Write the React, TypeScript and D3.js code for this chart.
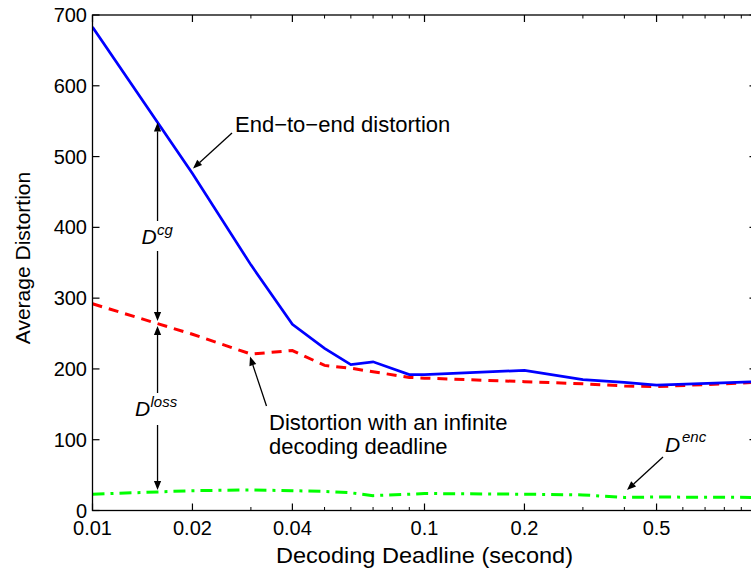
import React from "react";
import * as d3 from "d3";

// Decoding deadlines (seconds) shared by all series
const deadlines = [0.01, 0.02, 0.03, 0.04, 0.05, 0.06, 0.07, 0.09, 0.1, 0.2, 0.3, 0.4, 0.5, 1];
// End-to-end distortion
const endToEnd = [683, 476, 347, 263, 229, 206, 210, 192, 192, 198, 185, 181, 177, 182];
// Distortion with an infinite decoding deadline
const infiniteDeadline = [292, 249, 221, 226, 205, 201, 196, 188, 187, 182, 179, 176, 175, 181];
// Encoder distortion
const encoderDist = [23, 28, 29, 28, 27, 25, 21, 23, 24, 23, 22, 18.5, 19, 18.5];

const xMajorTicks = [0.01, 0.02, 0.04, 0.1, 0.2, 0.5, 1];
const xTickLabels = ["0.01", "0.02", "0.04", "0.1", "0.2", "0.5", ""];
const xMinorTicks = [0.03, 0.05, 0.06, 0.07, 0.08, 0.09, 0.3, 0.4, 0.6, 0.7, 0.8, 0.9];
const yTicks = [0, 100, 200, 300, 400, 500, 600, 700];

const W = 751;
const H = 572;
const FONT = "'Liberation Sans', Arial, Helvetica, sans-serif";

const left = 92.5;
const right = 756.5;
const top = 15;
const bottom = 510.5;

function Arrow({ x1, y1, x2, y2 }: { x1: number; y1: number; x2: number; y2: number }) {
  const len = 9;
  const half = 3.6;
  const dx = x2 - x1;
  const dy = y2 - y1;
  const d = Math.hypot(dx, dy);
  const ux = dx / d;
  const uy = dy / d;
  const bx = x2 - ux * len;
  const by = y2 - uy * len;
  const px = -uy * half;
  const py = ux * half;
  return (
    <g>
      <line x1={x1} y1={y1} x2={bx} y2={by} stroke="#000" strokeWidth={1.3} />
      <polygon points={`${x2},${y2} ${bx + px},${by + py} ${bx - px},${by - py}`} fill="#000" />
    </g>
  );
}

export default function App() {
  const x = d3.scaleLog().domain([0.01, 1]).range([left, right]);
  const y = d3.scaleLinear().domain([0, 700]).range([bottom, top]);

  const line = (vals: number[]) =>
    d3
      .line<number>()
      .x((_, i) => x(deadlines[i]))
      .y((v) => y(v))(vals) as string;

  const majorLen = 7;
  const minorLen = 3.5;

  // column of the D^cg / D^loss bracket arrows
  const bracketAt = 0.0157;
  const ax = x(bracketAt);
  const blueAtBracket = d3.scaleLog().domain([deadlines[0], deadlines[1]]).range([endToEnd[0], endToEnd[1]])(bracketAt);

  return (
    <svg
      width={W}
      height={H}
      style={{ position: "fixed", left: 0, top: 0, background: "#fff" }}
      fontFamily={FONT}
    >
      <rect x={0} y={0} width={W} height={H} fill="#fff" />
      <defs>
        <clipPath id="plot">
          <rect x={left} y={top} width={right - left} height={bottom - top} />
        </clipPath>
      </defs>

      {/* series */}
      <g clipPath="url(#plot)" fill="none">
        <path d={line(encoderDist)} stroke="#00ff00" strokeWidth={3} strokeDasharray="12,6,3,6" />
        <path d={line(infiniteDeadline)} stroke="#ff0000" strokeWidth={3} strokeDasharray="10,7" />
        <path d={line(endToEnd)} stroke="#0000ff" strokeWidth={2.7} />
      </g>

      {/* axes box */}
      <rect x={left} y={top} width={right - left} height={bottom - top} fill="none" stroke="#000" strokeWidth={1.3} />

      {/* x ticks */}
      {xMajorTicks.map((t) => (
        <g key={"xM" + t}>
          <line x1={x(t)} x2={x(t)} y1={bottom} y2={bottom - majorLen} stroke="#000" strokeWidth={1.2} />
          <line x1={x(t)} x2={x(t)} y1={top} y2={top + majorLen} stroke="#000" strokeWidth={1.2} />
        </g>
      ))}
      {xMinorTicks.map((t) => (
        <g key={"xm" + t}>
          <line x1={x(t)} x2={x(t)} y1={bottom} y2={bottom - minorLen} stroke="#000" strokeWidth={1} />
          <line x1={x(t)} x2={x(t)} y1={top} y2={top + minorLen} stroke="#000" strokeWidth={1} />
        </g>
      ))}
      {xMajorTicks.map((t, i) =>
        xTickLabels[i] ? (
          <text key={"xl" + t} x={x(t)} y={535} fontSize={20} textAnchor="middle" fill="#000">
            {xTickLabels[i]}
          </text>
        ) : null
      )}

      {/* y ticks */}
      {yTicks.map((t) => (
        <g key={"y" + t}>
          <line x1={left} x2={left + majorLen} y1={y(t)} y2={y(t)} stroke="#000" strokeWidth={1.2} />
          <line x1={right} x2={right - majorLen} y1={y(t)} y2={y(t)} stroke="#000" strokeWidth={1.2} />
          <text x={87} y={y(t) + 7} fontSize={20} textAnchor="end" fill="#000">
            {t}
          </text>
        </g>
      ))}

      {/* axis titles */}
      <text
        x={(left + right) / 2}
        y={563}
        fontSize={22}
        textAnchor="middle"
        textLength={297}
        lengthAdjust="spacingAndGlyphs"
        fill="#000"
      >
        Decoding Deadline (second)
      </text>
      <text transform="translate(30,258) rotate(-90)" fontSize={21} textAnchor="middle" fill="#000">
        Average Distortion
      </text>

      {/* annotations */}
      <text x={235} y={132} fontSize={22} fill="#000">
        End−to−end distortion
      </text>
      <Arrow x1={232} y1={133} x2={193} y2={168.5} />

      <text x={269} y={430} fontSize={22} fill="#000">
        Distortion with an infinite
      </text>
      <text x={269} y={454} fontSize={22} fill="#000">
        decoding deadline
      </text>
      <Arrow x1={266.5} y1={406} x2={250} y2={356.5} />

      <text x={665} y={452} fontSize={21} fontStyle="italic" fill="#000">
        D
      </text>
      <text x={682} y={442} fontSize={15} fontStyle="italic" fill="#000">
        enc
      </text>
      <Arrow x1={663} y1={457} x2={627} y2={490} />

      <text x={141.5} y={244} fontSize={21} fontStyle="italic" fill="#000">
        D
      </text>
      <text x={157} y={235} fontSize={15} fontStyle="italic" fill="#000">
        cg
      </text>
      <Arrow x1={ax} y1={221} x2={ax} y2={y(blueAtBracket)} />
      <Arrow x1={ax} y1={251} x2={ax} y2={321} />

      <text x={135} y={416} fontSize={21} fontStyle="italic" fill="#000">
        D
      </text>
      <text x={150.5} y={407} fontSize={15} fontStyle="italic" fill="#000">
        loss
      </text>
      <Arrow x1={ax} y1={393} x2={ax} y2={326} />
      <Arrow x1={ax} y1={425} x2={ax} y2={490} />
    </svg>
  );
}
